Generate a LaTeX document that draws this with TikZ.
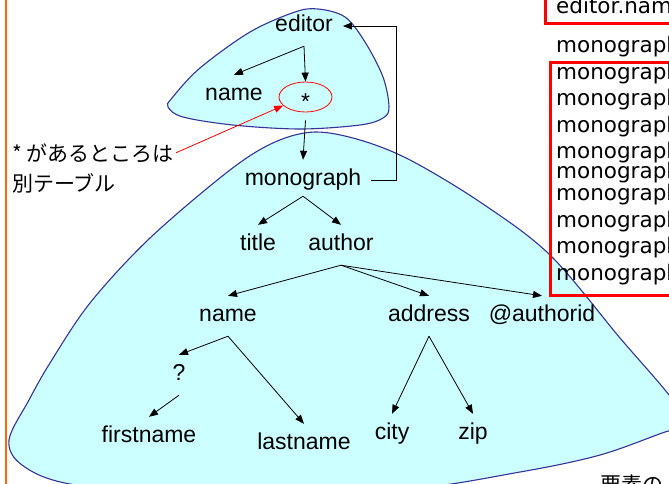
\documentclass[tikz,border=0pt]{standalone}
\usepackage{fontspec}
\setmainfont{Liberation Sans}
\newfontfamily\cjkfont{Noto Sans CJK JP}
\newfontfamily\colfont{DejaVu Sans}
\usetikzlibrary{arrows.meta,shapes.geometric}
\definecolor{blobfill}{HTML}{CCFFFF}
\definecolor{blobline}{HTML}{333399}
\definecolor{rulecol}{HTML}{FF6600}
\begin{document}
\begin{tikzpicture}[x=1pt,y=-1pt,
  lbl/.style={font=\fontsize{23}{27}\selectfont, text height=16pt, text depth=5pt,
              inner xsep=10pt, inner ysep=9.5pt},
  arr/.style={draw, line width=0.8pt, -{Triangle[length=9pt,width=7pt]}},
  redarr/.style={draw=red, line width=0.8pt, -{Triangle[length=9pt,width=7pt]}},
  blob/.style={fill=blobfill, draw=blobline, line width=1.1pt},
  col/.style={font=\colfont\fontsize{21.5}{25}\selectfont, anchor=base west, inner sep=0pt},
  jp/.style={font=\cjkfont\fontsize{21}{25}\selectfont, anchor=base west, inner sep=0pt},
  redbox/.style={draw=red, line width=3pt}]
\useasboundingbox (0,0) rectangle (669,483);

% margin rule
\draw[rulecol, line width=1.5pt] (6,-5) -- (6,490);

% lower region (monograph subtree)
\draw[blob] plot[smooth cycle, tension=0.55] coordinates {
  (315,132) (360,140) (410,160) (480,202) (550,255) (620,338) (665,390)
  (690,425) (665,432) (600,455) (520,472) (400,490) (200,498) (70,484)
  (22,465) (9,440) (29,400) (50,363) (90,303) (150,238) (230,170) (275,142)};

% upper region (editor)
\draw[blob] plot[smooth cycle, tension=0.55] coordinates {
  (318,9) (345,17) (365,42) (383,77) (389,107) (383,118) (360,125) (300,129)
  (233,125) (183,117) (168,107) (172,98) (200,68) (250,32) (295,12)};

% column of paths on the right
\draw[redbox] (545,-10) rectangle (700,23);
\draw[redbox] (550,62) rectangle (700,295);
\node[col] (c0) at (556,13) {editor.nam};
\node[col] (c1) at (556,52) {monograph};
\node[col] (c2) at (556,79) {monograph};
\node[col] (c3) at (556,105) {monograph};
\node[col] (c4) at (556,132) {monograph};
\node[col] (c5) at (556,158) {monograph};
\node[col] (c6) at (556,178) {monograph};
\node[col] (c7) at (556,200) {monograph};
\node[col] (c8) at (556,227) {monograph};
\node[col] (c9) at (556,253) {monograph};
\node[col] (c10) at (556,280) {monograph};

% tree nodes
\node[lbl] (editor) at (304,26) {editor};
\node[lbl] (ename) at (234,95) {name};
\node[draw=red, ellipse, minimum width=53pt, minimum height=30pt, inner sep=0pt,
      line width=0.8pt] (star) at (305.5,97) {};
\node[font=\fontsize{23}{27}\selectfont, inner sep=0pt] (starmark)
      at ([yshift=-5pt]star.center) {*};
\node[lbl] (mono) at (303,180) {monograph};
\node[lbl] (title) at (258,245) {title};
\node[lbl] (author) at (341,245) {author};
\node[lbl] (aname) at (228,316) {name};
\node[lbl] (address) at (429,316) {address};
\node[lbl] (authorid) at (542,316) {@authorid};
\node[lbl] (opt) at (179,375) {?};
\node[lbl] (first) at (149,437) {firstname};
\node[lbl] (last) at (304,444) {lastname};
\node[lbl] (city) at (392,434) {city};
\node[lbl] (zip) at (473,434) {zip};

% notes
\node[jp] (jp1) at (12,161) {* があるところは};
\node[jp] (jp2) at (12,191) {別テーブル};
\node[jp] (jp3) at (600,492) {要素の};

% edges
\draw[arr] (editor.south) -- (ename.north);
\draw[arr] (editor.south) -- (star.north);
\draw[arr] ([yshift=-8pt]star.south) -- (mono.north);
\draw[arr] (mono.east) -- ++(25,0) |- (editor.east);
\draw[arr] ([yshift=4pt]mono.south) -- (title.north);
\draw[arr] ([yshift=4pt]mono.south) -- (author.north);
\draw[arr] (author.south) -- (aname.north);
\draw[arr] (author.south) -- (address.north);
\draw[arr] (author.south) -- (authorid.north);
\draw[arr] (aname.south) -- (opt.north);
\draw[arr] (aname.south) -- (last.north);
\draw[arr] (opt.south) -- (first.north);
\draw[arr] (address.south) -- (city.north);
\draw[arr] (address.south) -- (zip.north);
\draw[redarr] ([xshift=2pt]jp1.east) -- (star.201);
\end{tikzpicture}
\end{document}
